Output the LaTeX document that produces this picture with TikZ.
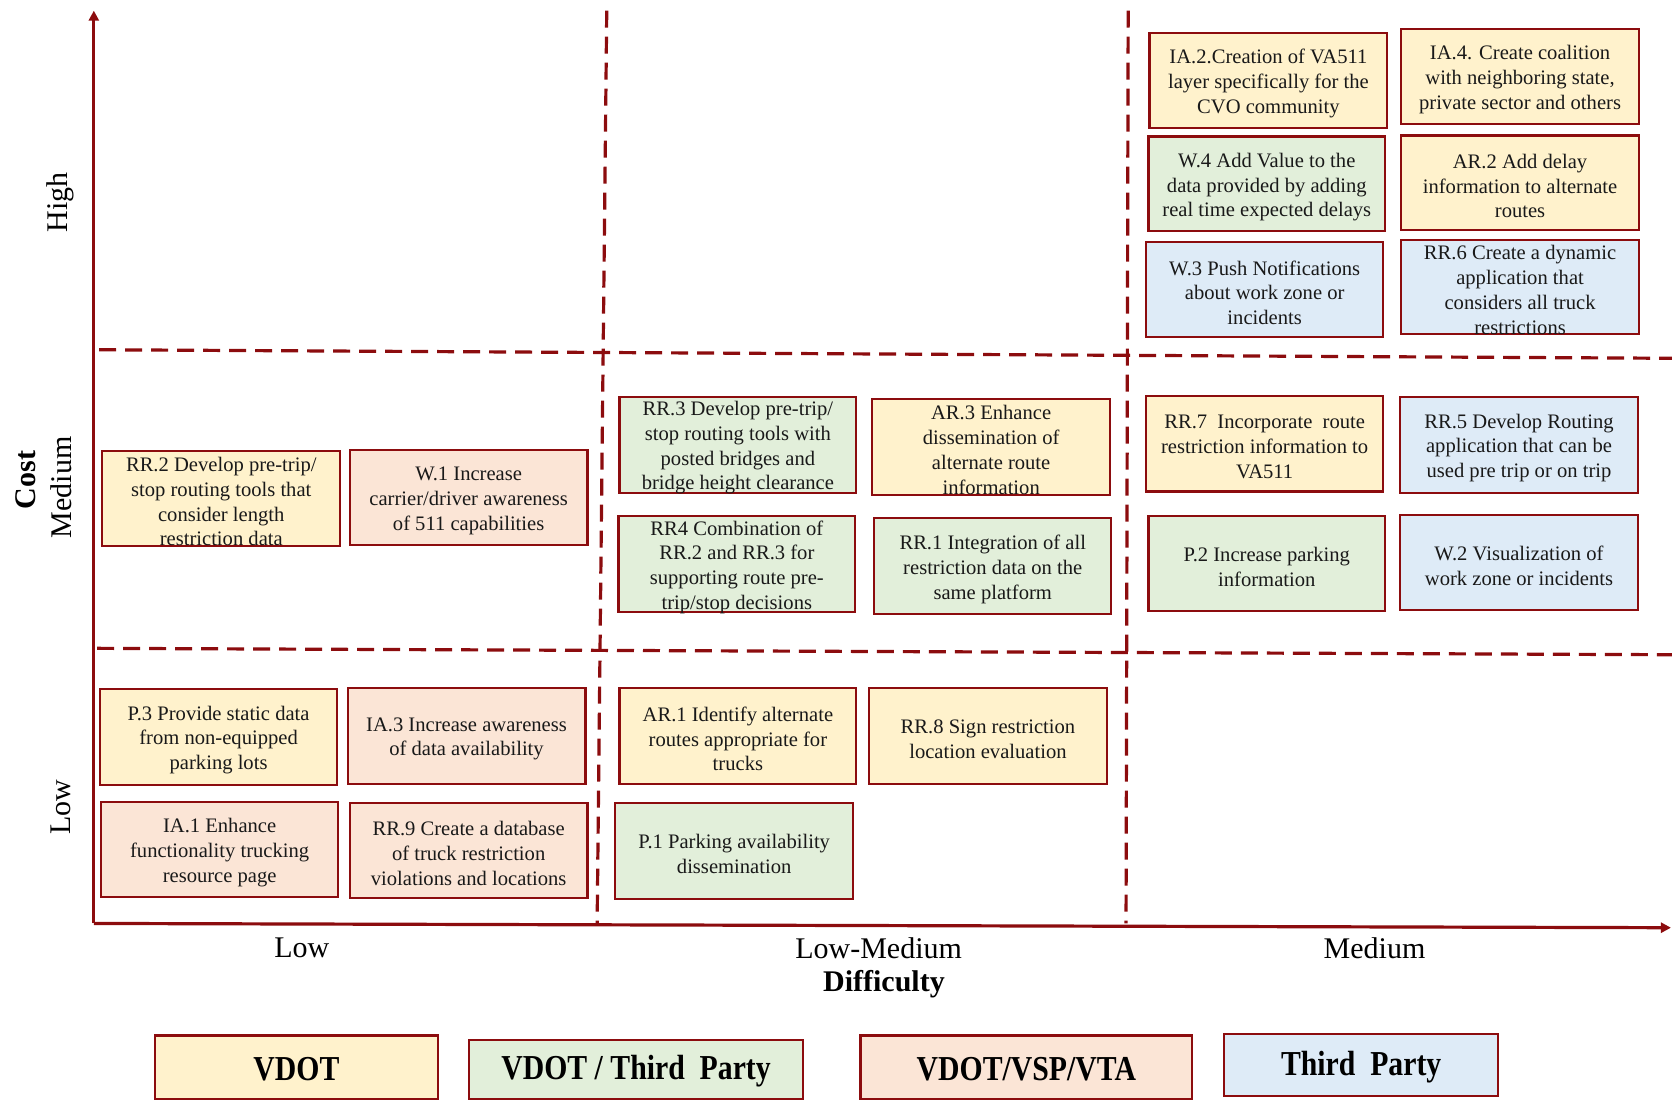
\documentclass[tikz,border=0pt]{standalone}
\usepackage{fontspec}
\setmainfont{Liberation Serif}
\newfontfamily\boxfont{Liberation Serif}
\newfontfamily\condfont[FakeStretch=0.85]{Liberation Serif}
\usetikzlibrary{arrows.meta}
\definecolor{dred}{RGB}{140,12,14}
\definecolor{cyel}{HTML}{FFF2CC}
\definecolor{cgrn}{HTML}{E2EFDA}
\definecolor{cpnk}{HTML}{FBE5D6}
\definecolor{cblu}{HTML}{DEEBF7}
\tikzset{
  frame/.style={draw=dred, line width=1.1pt},
  yel/.style={frame, fill=cyel},
  grn/.style={frame, fill=cgrn},
  pnk/.style={frame, fill=cpnk},
  blu/.style={frame, fill=cblu},
  boxtext/.style={inner sep=0pt, align=center, yshift=-1.6pt,
    font=\boxfont\fontsize{10.3}{12.4}\selectfont, text=black!90},
  legendtext/.style={inner sep=0pt, yshift=-0.8pt,
    font=\condfont\bfseries\fontsize{17.5}{20}\selectfont},
  axis/.style={draw=dred, line width=1.6pt, -{Triangle[length=5pt,width=5pt]}},
  divider/.style={draw=dred, line width=1.6pt, dash pattern=on 8.5pt off 4.5pt},
  axlabel/.style={font=\fontsize{15}{18}\selectfont},
  axtitle/.style={font=\bfseries\fontsize{15}{18}\selectfont}
}
% \itembox{name}{style}{x1}{y1}{x2}{y2}{text}
\newcommand\itembox[7]{%
  \path[#2] (#3,#4) rectangle (#5,#6);
  \node[boxtext] (#1) at ({(#3+#5)/2},{(#4+#6)/2}) {#7};}
\newcommand\legendbox[7]{%
  \path[#2] (#3,#4) rectangle (#5,#6);
  \node[legendtext] (#1) at ({(#3+#5)/2},{(#4+#6)/2}) {#7};}
\begin{document}
\begin{tikzpicture}[x=0.5332pt,y=-0.5332pt]
\useasboundingbox (0,0) rectangle (1568,1032);
% axes origin and ends
\coordinate (o) at (88,866);
\coordinate (ytop) at (88,10);
\coordinate (xend) at (1567,870);
% dividers
\coordinate (v1t) at (569,10); \coordinate (v1b) at (560,866);
\coordinate (v2t) at (1058,10); \coordinate (v2b) at (1056,866);
\coordinate (h1l) at (93,328); \coordinate (h1r) at (1568,336);
\coordinate (h2l) at (91,608); \coordinate (h2r) at (1568,614);
\draw[divider] (v1t) -- (v1b);
\draw[divider] (v2t) -- (v2b);
\draw[divider] (h1l) -- (h1r);
\draw[divider] (h2l) -- (h2r);
\draw[axis] (o) -- (ytop);
\draw[axis] (o) -- (xend);

% axis labels
\node[axlabel, rotate=90] (chigh) at (57,190) {High};
\node[axlabel, rotate=90] (cmed) at (57,457) {Medium};
\node[axlabel, rotate=90] (clow) at (57,757) {Low};
\node[axtitle, rotate=90] (cost) at (24,450) {Cost};
\node[axlabel] (dlow) at (283,889) {Low};
\node[axlabel] (dlm) at (824,889) {Low-Medium};
\node[axlabel] (dmed) at (1289,889) {Medium};
\node[axtitle] (diff) at (829,923) {Difficulty};

% High cost / Medium difficulty
\itembox{ia2}{yel}{1078}{31}{1301}{120}{IA.2.Creation of VA511\\layer specifically for the\\CVO community}
\itembox{ia4}{yel}{1314}{27}{1537}{116}{IA.4. Create coalition\\with neighboring state,\\private sector and others}
\itembox{w4}{grn}{1077}{128}{1299}{217}{W.4 Add Value to the\\data provided by adding\\real time expected delays}
\itembox{ar2}{yel}{1314}{127}{1537}{216}{AR.2 Add delay\\information to alternate\\routes}
\itembox{w3}{blu}{1075}{227}{1297}{316}{W.3 Push Notifications\\about work zone or\\incidents}
\itembox{rr6}{blu}{1314}{225}{1537}{313}{RR.6 Create a dynamic\\application that\\considers all truck\\restrictions}

% Medium cost
\itembox{rr2}{yel}{96}{423}{319}{512}{RR.2 Develop pre-trip/\\stop routing tools that\\consider length\\restriction data}
\itembox{w1}{pnk}{328}{422}{551}{511}{W.1 Increase\\carrier/driver awareness\\of 511 capabilities}
\itembox{rr3}{grn}{581}{372}{803}{462}{RR.3 Develop pre-trip/\\stop routing tools with\\posted bridges and\\bridge height clearance}
\itembox{ar3}{yel}{818}{374}{1041}{464}{AR.3 Enhance\\dissemination of\\alternate route\\information}
\itembox{rr4}{grn}{580}{484}{802}{574}{RR4 Combination of\\RR.2 and RR.3 for\\supporting route pre-\\trip/stop decisions}
\itembox{rr1}{grn}{820}{486}{1042}{576}{RR.1 Integration of all\\restriction data on the\\same platform}
\itembox{rr7}{yel}{1075}{371}{1297}{461}{RR.7\ \ Incorporate\ \ route\\restriction information to\\VA511}
\itembox{rr5}{blu}{1313}{372}{1536}{462}{RR.5 Develop Routing\\application that can be\\used pre trip or on trip}
\itembox{p2}{grn}{1077}{484}{1299}{573}{P.2 Increase parking\\information}
\itembox{w2}{blu}{1313}{483}{1536}{572}{W.2 Visualization of\\work zone or incidents}

% Low cost
\itembox{p3}{yel}{94}{646}{316}{736}{P.3 Provide static data\\from non-equipped\\parking lots}
\itembox{ia3}{pnk}{326}{645}{549}{735}{IA.3 Increase awareness\\of data availability}
\itembox{ia1}{pnk}{95}{752}{317}{841}{IA.1 Enhance\\functionality trucking\\resource page}
\itembox{rr9}{pnk}{328}{753}{551}{842}{RR.9 Create a database\\of truck restriction\\violations and locations}
\itembox{ar1}{yel}{581}{645}{803}{735}{AR.1 Identify alternate\\routes appropriate for\\trucks}
\itembox{rr8}{yel}{815}{645}{1038}{735}{RR.8 Sign restriction\\location evaluation}
\itembox{p1}{grn}{577}{753}{800}{843}{P.1 Parking availability\\dissemination}

% Legend
\legendbox{lvdot}{yel}{145}{971}{411}{1031}{VDOT}
\legendbox{lvtp}{grn}{440}{975}{753}{1031}{VDOT / Third\ \ Party}
\legendbox{lvsp}{pnk}{807}{971}{1118}{1031}{VDOT/VSP/VTA}
\legendbox{ltp}{blu}{1148}{970}{1405}{1028}{Third\ \ Party}
\end{tikzpicture}
\end{document}
